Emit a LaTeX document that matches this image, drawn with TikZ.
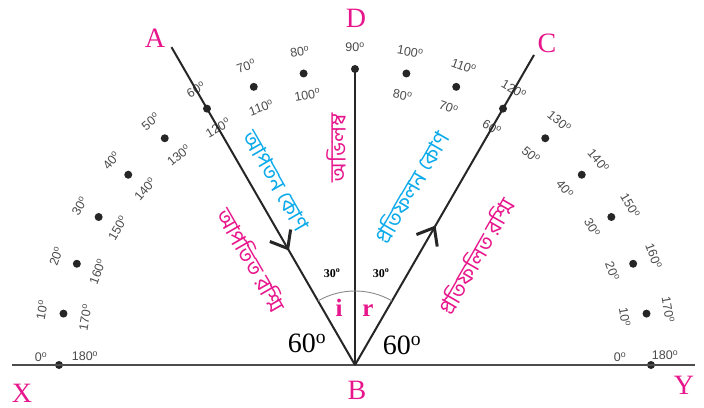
\documentclass[tikz,border=0pt]{standalone}
\usepackage{fontspec}
\setmainfont{Liberation Serif}
\newfontfamily\bnfont[Script=Bengali]{Hind Siliguri}
\newfontfamily\numfont{Liberation Sans}
\usetikzlibrary{arrows.meta,decorations.markings,calc}
\definecolor{mag}{RGB}{232,22,140}
\definecolor{cy}{RGB}{10,170,235}
\definecolor{numgray}{RGB}{75,75,75}
\tikzset{
  ptlabel/.style={text=mag, inner sep=0pt, font=\fontsize{28}{28}\selectfont},
  numlbl/.style={text=numgray, inner sep=0pt, font=\numfont\fontsize{12.5}{12.5}\selectfont},
  dotmark/.style={fill=black!85, circle, inner sep=0pt, minimum size=8pt},
  rayline/.style={draw=black!85, line width=2pt},
  baseln/.style={draw=black!70, line width=2.2pt},
  bntext/.style={inner sep=0pt, font=\bnfont\fontsize{22}{22}\selectfont},
  bigdeg/.style={inner sep=0pt, font=\fontsize{28}{28}\selectfont},
  smalldeg/.style={inner sep=1pt, fill=white, font=\bfseries\fontsize{12}{12}\selectfont},
  irlbl/.style={inner sep=0pt, text=mag, font=\bfseries\fontsize{25}{25}\selectfont},
  barb/.style={-{Straight Barb[length=15pt,width=24pt,line width=3pt]}}
}
\begin{document}
\begin{tikzpicture}[x=1pt,y=1pt]
\useasboundingbox (0,0) rectangle (704,407);
\fill[white] (0,0) rectangle (704,407);
% key points
\coordinate (B) at (355,42);
\coordinate (Xe) at (12,42);
\coordinate (Ye) at (695,42);
\coordinate (Ae) at ($(B)+(120:367)$);
\coordinate (Ce) at ($(B)+(60:358)$);
\coordinate (De) at ($(B)+(90:295)$);
% protractor dots and labels
\foreach \t in {10,20,...,170}{
  \pgfmathsetmacro{\phi}{180-\t}
  \node[dotmark] (dot\t) at ($(B)+(\phi:296)$) {};
  \node[numlbl, rotate=\phi-90] (out\t) at ($(B)+(\phi:318)$) {\t\textsuperscript{o}};
}
\foreach \t in {10,20,...,80,100,110,...,170}{
  \pgfmathsetmacro{\phi}{180-\t}
  \pgfmathtruncatemacro{\ph}{180-\t}
  \node[numlbl, rotate=\phi-90] (in\t) at ($(B)+(\phi:274)$) {\ph\textsuperscript{o}};
}
\node[dotmark] (dot0) at ($(B)+(180:296)$) {};
\node[dotmark] (dot180) at ($(B)+(0:296)$) {};
\node[numlbl] (l0a) at (41,50) {0\textsuperscript{o}};
\node[numlbl] (l0b) at (85,51) {180\textsuperscript{o}};
\node[numlbl] (r0a) at (620,50) {0\textsuperscript{o}};
\node[numlbl] (r0b) at (665,52) {180\textsuperscript{o}};
% base line and rays
\draw[baseln] (Xe) -- (Ye);
\draw[rayline] (B) -- (De);
\draw[rayline] (Ae) -- (B);
\draw[rayline] (B) -- (Ce);
% arrow heads
\path (Ae) -- coordinate[pos=0.64] (ai) (B);
\path (B) -- coordinate[pos=0.45] (ar) (Ce);
\draw[barb, black!85] ($(ai)+(120:2)$) -- (ai);
\draw[barb, black!85] ($(ar)+(240:2)$) -- (ar);
% angle arc
\draw[black!45, line width=0.9pt] ($(B)+(60:74)$) arc[start angle=60, end angle=120, radius=74];
% point labels
\node[ptlabel] (A) at (155,369) {A};
\node[ptlabel] (D) at (356,389) {D};
\node[ptlabel] (C) at (547,364) {C};
\node[ptlabel] (Bl) at (357,17) {B};
\node[ptlabel] (X) at (22,14) {X};
\node[ptlabel] (Y) at (684,22) {Y};
% angle labels
\node[bigdeg] (sixtyL) at (307,64) {60\textsuperscript{o}};
\node[bigdeg] (sixtyR) at (402,62) {60\textsuperscript{o}};
\node[smalldeg] (thirtyL) at (332,134) {30\textsuperscript{o}};
\node[smalldeg] (thirtyR) at (381,134) {30\textsuperscript{o}};
\node[irlbl, anchor=base] (ilbl) at (339,90) {i};
\node[irlbl, anchor=base] (rlbl) at (368,90) {r};
% Bengali texts
\node[bntext, text=cy, rotate=-60] (incang) at (276,226) {আপতন কোণ};
\node[bntext, text=mag, rotate=90] (normal) at (336,259) {অভিলম্ব};
\node[bntext, text=mag, rotate=-60] (incray) at (252,147) {আপতিত রশ্মি};
\node[bntext, text=cy, rotate=60] (refang) at (411,220) {প্রতিফলন কোণ};
\node[bntext, text=mag, rotate=60] (refray) at (476,151) {প্রতিফলিত রশ্মি};
\end{tikzpicture}
\end{document}
